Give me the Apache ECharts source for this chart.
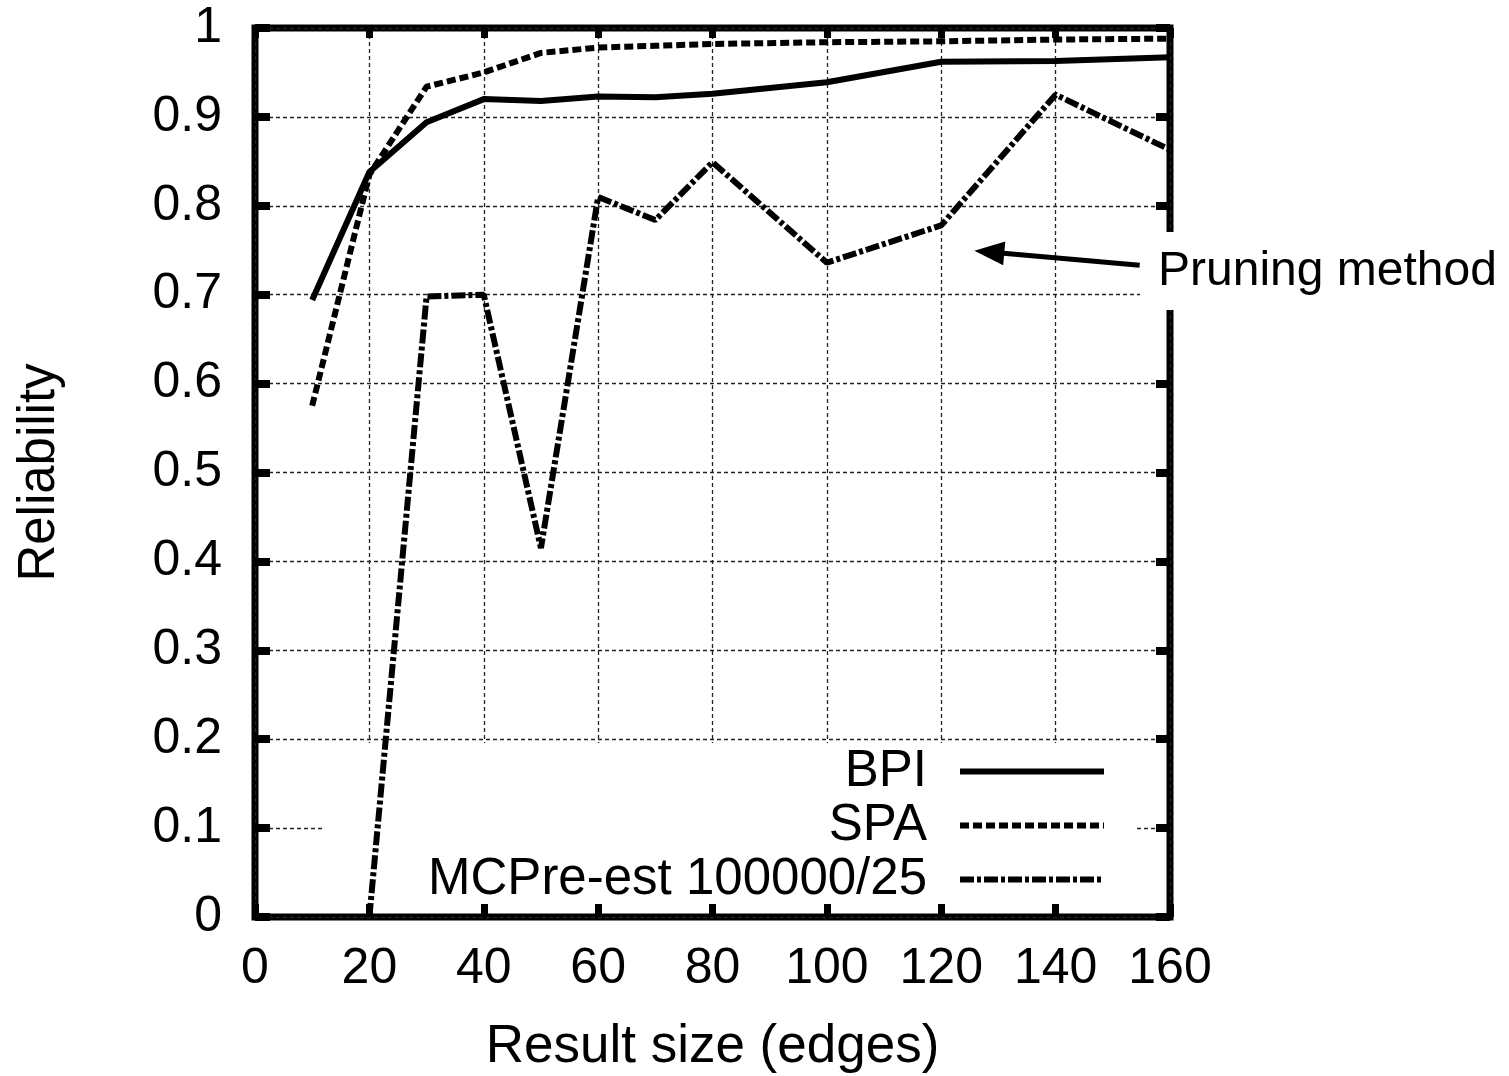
<!DOCTYPE html>
<html>
<head>
<meta charset="utf-8">
<script src="https://cdn.jsdelivr.net/npm/echarts@6/dist/echarts.min.js"></script>
<style>
html,body{margin:0;padding:0;background:#fff;}
#chart{width:1509px;height:1076px;}
</style>
</head>
<body>
<div id="chart"></div>
<script>
var xTicks = ['0','20','40','60','80','100','120','140','160'];
var yTicks = ['0','0.1','0.2','0.3','0.4','0.5','0.6','0.7','0.8','0.9','1'];
var bpiX = [10,20,30,40,50,60,70,80,100,120,140,160];
var bpiY = [0.694,0.838,0.894,0.920,0.918,0.923,0.922,0.926,0.939,0.962,0.963,0.967];
var spaX = [10,20,30,40,50,60,70,80,100,120,140,160];
var spaY = [0.575,0.835,0.934,0.950,0.972,0.978,0.980,0.982,0.984,0.985,0.987,0.988];
var mcX = [20,30,40,50,60,70,80,100,120,140,160];
var mcY = [0.0,0.698,0.700,0.415,0.810,0.784,0.849,0.736,0.778,0.925,0.863];
var seriesNames = ['BPI','SPA','MCPre-est 100000/25'];
var arrowFrom = [154.7, 0.733];
var arrowTo = [128.4, 0.748];
var annotation = 'Pruning method';

function pairs(xs, ys){ return xs.map(function(x,i){ return [x, ys[i]]; }); }

var FONT = 'Liberation Sans, Arial, Helvetica, sans-serif';
var chart = echarts.init(document.getElementById('chart'));

var noLine = {show:false, onZero:false};
var gridLine = {show:true, lineStyle:{color:'#222', width:1.3, type:[4,3]}};

chart.setOption({
  animation:false,
  backgroundColor:'#fff',
  grid:{left:255, right:339, top:28, bottom:159, show:true, borderColor:'#000', borderWidth:7,
        backgroundColor:'transparent', outerBoundsMode:'none', containLabel:false},
  xAxis:[{
    type:'value', min:0, max:160, interval:20,
    axisLine:noLine, axisTick:{show:true, inside:true, length:13, lineStyle:{color:'#000', width:7}}, splitLine:gridLine,
    axisLabel:{fontSize:50, fontFamily:FONT, color:'#000', margin:27,
      formatter:function(v){ return xTicks[Math.round(v/20)]; }},
    name:'Result size (edges)', nameLocation:'middle', nameGap:104,
    nameTextStyle:{fontSize:53, fontFamily:FONT, color:'#000'}
  },{
    type:'value', min:0, max:160, interval:20, position:'top',
    axisLine:noLine, axisTick:{show:true, inside:true, length:10, lineStyle:{color:'#000', width:7}},
    splitLine:{show:false}, axisLabel:{show:false}
  }],
  yAxis:[{
    type:'value', min:0, max:1, interval:0.1,
    axisLine:noLine, axisTick:{show:true, inside:true, length:15, lineStyle:{color:'#000', width:8}}, splitLine:gridLine,
    axisLabel:{fontSize:50, fontFamily:FONT, color:'#000', margin:33,
      formatter:function(v){ return yTicks[Math.round(v*10)]; }},
    name:'Reliability', nameLocation:'middle', nameGap:190, nameRotate:90,
    nameTextStyle:{fontSize:51, fontFamily:FONT, color:'#000'}
  },{
    type:'value', min:0, max:1, interval:0.1, position:'right',
    axisLine:noLine, axisTick:{show:true, inside:true, length:14, lineStyle:{color:'#000', width:8}},
    splitLine:{show:false}, axisLabel:{show:false}
  }],
  legend:{
    orient:'vertical', align:'right', right:402, top:746, padding:0,
    itemWidth:144, itemHeight:14, itemGap:3,
    itemStyle:{opacity:0},
    lineStyle:{width:6},
    textStyle:{fontSize:51, fontFamily:FONT, color:'#000', padding:[0,28,0,0]},
    data:seriesNames
  },
  graphic:[
    {type:'rect', z:1, silent:true, shape:{x:325, y:743, width:810, height:161}, style:{fill:'#fff'}},
    {type:'rect', z:100, silent:true, shape:{x:1140, y:232, width:369, height:78}, style:{fill:'#fff'}},
    {type:'text', z:101, silent:true, x:1158, y:272, style:{text:annotation, fontSize:48, fontFamily:FONT, fill:'#000', align:'left', verticalAlign:'middle'}}
  ],
  series:[
    {name:seriesNames[0], type:'line', data:pairs(bpiX,bpiY), symbol:'none', z:3,
     lineStyle:{color:'#000', width:6, type:'solid'}, itemStyle:{color:'#000'}},
    {name:seriesNames[1], type:'line', data:pairs(spaX,spaY), symbol:'none', z:3,
     lineStyle:{color:'#000', width:6, type:[9,4]}, itemStyle:{color:'#000'}},
    {name:seriesNames[2], type:'line', data:pairs(mcX,mcY), symbol:'none', z:3,
     lineStyle:{color:'#000', width:6, type:[14,3,4,3]}, itemStyle:{color:'#000'},
     markLine:{silent:true, symbol:['none','triangle'], symbolSize:[24,30],
       label:{show:false}, lineStyle:{color:'#000', width:5, type:'solid'},
       itemStyle:{color:'#000'},
       emphasis:{disabled:true},
       data:[[{coord:arrowFrom},{coord:arrowTo}]]}}
  ]
});
</script>
</body>
</html>
